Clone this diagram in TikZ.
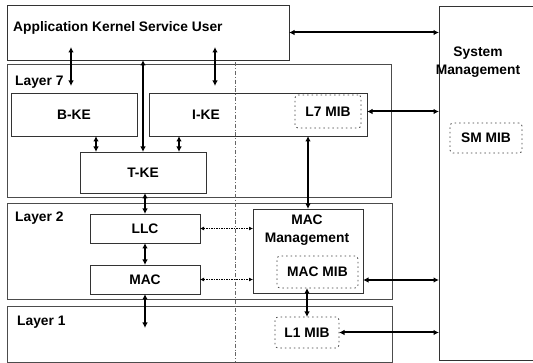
\documentclass[tikz,border=0pt]{standalone}
\usepackage{fontspec}
\setmainfont{Liberation Sans}
\usetikzlibrary{arrows.meta, calc, positioning}

\newcommand{\boxfont}{\bfseries\fontsize{13.8}{18}\selectfont}

\begin{document}
\begin{tikzpicture}[
  x=1pt, y=-1pt,
  % ---- styles ----
  box/.style 2 args={%
    draw=black!80, line width=0.6pt, minimum width=#1, minimum height=#2,
    inner sep=0pt, outer sep=0pt,
  },
  layer/.style 2 args={box={#1}{#2}, draw=black!70},
  mib/.style 2 args={%
    draw=black!75, line width=0.8pt, dash pattern=on 1.5pt off 3pt,
    rounded corners=3pt, minimum width=#1, minimum height=#2,
    inner sep=0pt, outer sep=0pt, font=\boxfont,
  },
  lbl/.style={font=\boxfont, inner sep=0pt, align=center},
  biarrow/.style={line width=2pt,
    {Latex[length=5.5pt,width=5.5pt]}-{Latex[length=5.5pt,width=5.5pt]}},
  thinarrow/.style={line width=0.8pt, dash pattern=on 1.5pt off 1pt,
    {Latex[length=4pt,width=4pt]}-{Latex[length=4pt,width=4pt]}},
  sepline/.style={draw=black!60, line width=0.5pt,
    dash pattern=on 4pt off 2pt on 0.8pt off 2pt},
]

% ---- page ----
\useasboundingbox (0,0) rectangle (533,363);
\fill[white] (0,0) rectangle (533,363);

% =========================================================
% Application Kernel Service User
% =========================================================
\node[box={282pt}{55pt}] (app) at (148,32.5) {};
\node[lbl, anchor=west] (appt) at (13,28) {Application Kernel Service User};

% =========================================================
% Layer 7
% =========================================================
\node[layer={384pt}{133pt}] (l7) at (199,130.5) {};
\node[lbl, anchor=west] (l7t) at (15,82) {Layer 7};
\node[box={126pt}{43pt}, lbl] (bke) at (74,114.5) {B-KE};
\node[box={218pt}{43pt}] (ike) at (258,114.5) {};
\node[lbl] (iket) at (206,114.5) {I-KE};
\node[mib={66pt}{33pt}] (l7mib) at (328,111.5) {L7 MIB};
\node[box={126pt}{41pt}, lbl] (tke) at (143,172.5) {T-KE};

% =========================================================
% Layer 2
% =========================================================
\node[layer={385pt}{96pt}] (l2) at (199.5,251) {};
\node[lbl, anchor=west] (l2t) at (15,218) {Layer 2};
\node[box={110pt}{29pt}, lbl] (llc) at (145,228.5) {LLC};
\node[box={110pt}{29pt}, lbl] (mac) at (145,279.5) {MAC};
\node[box={110pt}{84pt}] (macm) at (308,251) {};
\node[lbl] (macmt) at (307,230) {MAC\\Management};
\node[mib={81pt}{32pt}] (macmib) at (317.5,272) {MAC MIB};

% =========================================================
% Layer 1
% =========================================================
\node[layer={385pt}{56pt}] (l1) at (199.5,334) {};
\node[lbl, anchor=west] (l1t) at (17,322) {Layer 1};
\node[mib={64pt}{31pt}] (l1mib) at (307,332.5) {L1 MIB};

% =========================================================
% System Management (right side runs off the page)
% =========================================================
\node[box={140pt}{354pt}] (sysm) at (509,183) {};
\node[lbl] (sysmt) at (478,62) {System\\Management};
\node[mib={72pt}{30pt}] (smmib) at (486,138) {SM MIB};

% separator
\draw[sepline] (235,62) -- (235,362);

% =========================================================
% Arrows
% =========================================================
\draw[biarrow] ($(app.south -| bke.north)+(-3,-13)$) -- ($(bke.north)+(-3,-7)$);
\draw[biarrow] ($(app.south -| iket)+(9,-13)$) -- ($(iket |- ike.north)+(9,-7)$);
\draw[biarrow] (app.south -| tke.north) -- (tke.north);
\draw[biarrow] ($(tke.north west |- bke.south)+(16,0)$) -- ($(tke.north west)+(16,0)$);
\draw[biarrow] ($(tke.north east |- ike.south)+(-27,0)$) -- ($(tke.north east)+(-27,0)$);
\draw[biarrow] (llc.north |- tke.south) -- (llc.north);
\draw[biarrow] (llc.south) -- (mac.north);
\draw[biarrow] (mac.south) -- ($(mac.south)+(0,34)$);
\draw[thinarrow] (llc.east) -- (llc.east -| macm.west);
\draw[thinarrow] (mac.east) -- (mac.east -| macm.west);
\draw[biarrow] (ike.south -| macm.north) -- (macm.north);
\draw[biarrow] (macmib.south -| l1mib.north) -- (l1mib.north);

% to System Management
\draw[biarrow] (app.east) -- (app.east -| sysm.west);
\draw[biarrow] (l7mib.east -| ike.east) -- (l7mib.east -| sysm.west);
\draw[biarrow] ($(macmib.east -| macm.east)+(0,8)$) -- ($(macmib.east -| sysm.west)+(0,8)$);
\draw[biarrow] (l1mib.east) -- (l1mib.east -| sysm.west);

\end{tikzpicture}
\end{document}
